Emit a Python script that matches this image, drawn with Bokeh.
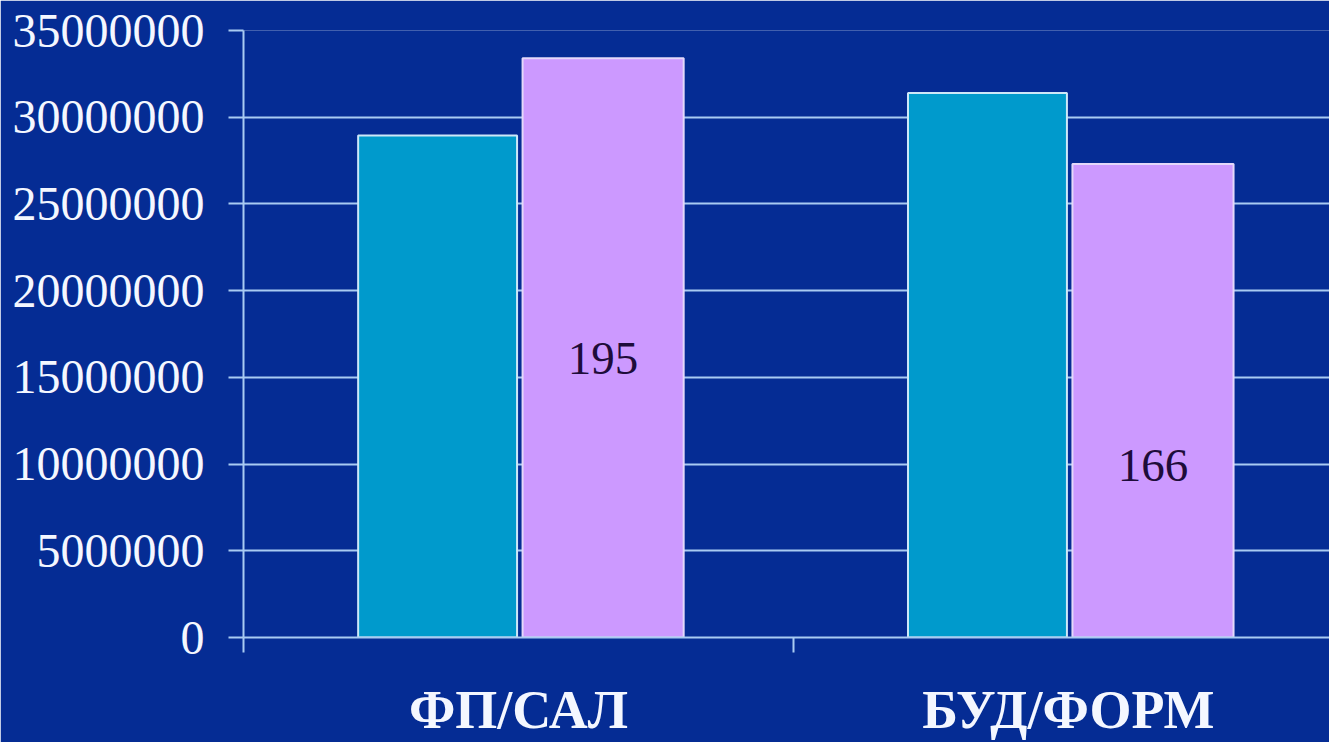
from bokeh.plotting import figure
from bokeh.models import (ColumnDataSource, Range1d, FixedTicker, NumeralTickFormatter)
from bokeh.transform import dodge
from bokeh.core.properties import value
from bokeh.embed import file_html
from bokeh.resources import INLINE

# ---- data ----
categories = ["ФП/САЛ", "БУД/ФОРМ"]
series_a = [28950000, 31400000]   # cyan bars
series_b = [33400000, 27300000]   # lilac bars
notes = ["195", "166"]            # numbers written inside lilac bars
note_y = [16100000, 9900000]      # vertical anchor of those numbers
y_ticks = [0, 5000000, 10000000, 15000000, 20000000, 25000000, 30000000, 35000000]

FONT = "Liberation Serif"
BG = "#052C94"
GRID = "#A9CBF2"

xpos = [i + 0.5 for i in range(len(categories))]
bounds = list(range(len(categories) + 1))
src = ColumnDataSource(dict(x=xpos, a=series_a, b=series_b, note=notes, ny=note_y))

p = figure(width=1329, height=742, output_backend="svg", toolbar_location=None,
           x_range=Range1d(0, 1.975), y_range=Range1d(0, 35000000),
           min_border_left=243, min_border_right=0, min_border_top=30, min_border_bottom=105)

p.background_fill_color = BG
p.border_fill_color = BG
p.outline_line_color = None

p.vbar(x=dodge("x", -0.147, range=p.x_range), top="a", width=0.289, source=src,
       fill_color="#009ACC", line_color="#CDE8F8", line_width=2)
p.vbar(x=dodge("x", 0.154, range=p.x_range), top="b", width=0.293, source=src,
       fill_color="#CC99FF", line_color="#E4D8FA", line_width=2)

p.text(x=dodge("x", 0.154, range=p.x_range), y="ny", text="note", source=src,
       text_font=value(FONT), text_font_size="47px", text_color="#1E0C3A",
       text_align="center", text_baseline="middle")

# grid
p.xgrid.grid_line_color = None
p.ygrid.ticker = FixedTicker(ticks=y_ticks)
p.ygrid.grid_line_color = GRID
p.ygrid.grid_line_width = 2
p.ygrid.level = "underlay"

# y axis
ya = p.yaxis[0]
ya.ticker = FixedTicker(ticks=y_ticks)
ya.formatter = NumeralTickFormatter(format="0")
ya.axis_line_color = GRID
ya.axis_line_width = 2
ya.major_tick_line_color = GRID
ya.major_tick_line_width = 2
ya.major_tick_out = 15
ya.major_tick_in = 0
ya.minor_tick_line_color = None
ya.major_label_standoff = 24
ya.major_label_text_font = FONT
ya.major_label_text_font_size = "48px"
ya.major_label_text_color = "#F4F7FF"

# x axis: labels at category centres, boundary ticks as minor ticks
xa = p.xaxis[0]
xa.ticker = FixedTicker(ticks=xpos, minor_ticks=bounds)
xa.major_label_overrides = {x: c for x, c in zip(xpos, categories)}
xa.axis_line_color = GRID
xa.axis_line_width = 2
xa.major_tick_line_color = None
xa.major_tick_out = 0
xa.major_tick_in = 0
xa.minor_tick_line_color = GRID
xa.minor_tick_line_width = 2
xa.minor_tick_out = 15
xa.minor_tick_in = 0
xa.major_label_standoff = 27
xa.major_label_text_font = FONT
xa.major_label_text_font_style = "bold"
xa.major_label_text_font_size = "54px"
xa.major_label_text_color = "#F4F7FF"

open("out.html", "w").write(file_html(p, INLINE))
